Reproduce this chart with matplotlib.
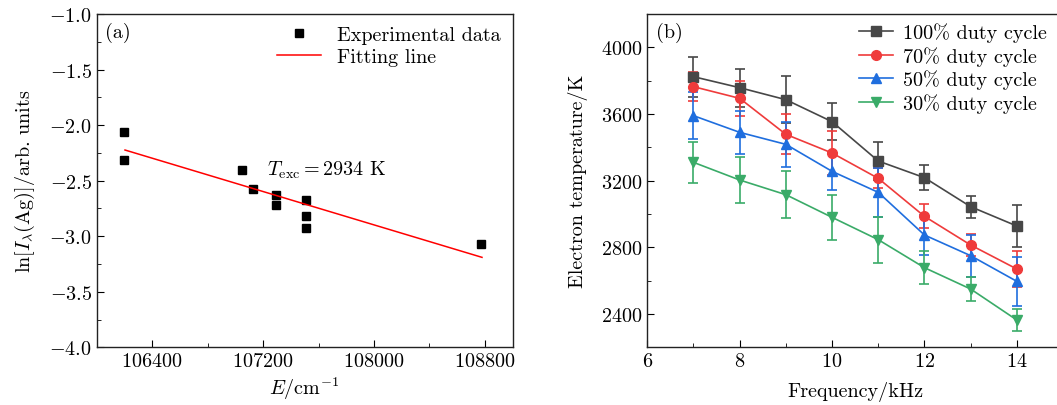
import matplotlib
matplotlib.use('Agg')
import matplotlib.pyplot as plt
from matplotlib.lines import Line2D
import numpy as np

plt.rcParams['font.family'] = ['cmr10', 'DejaVu Serif']
plt.rcParams['mathtext.fontset'] = 'cm'
plt.rcParams['axes.formatter.use_mathtext'] = True
plt.rcParams['font.size'] = 14.5

# (a) Boltzmann plot
energy = [106197, 106197, 107048, 107125, 107293, 107293, 107507, 107507, 107507, 108772]
ln_int = [-2.065, -2.311, -2.401, -2.572, -2.632, -2.722, -2.671, -2.821, -2.923, -3.073]
fit_x = [106204, 108779]
fit_y = [-2.224, -3.190]

# (b) electron temperature vs frequency
freq = [7, 8, 9, 10, 11, 12, 13, 14]
t100 = [3824, 3758, 3686, 3554, 3318, 3218, 3044, 2928]
e100 = [120, 115, 140, 110, 112, 75, 65, 125]
t70 = [3764, 3694, 3478, 3366, 3214, 2986, 2814, 2670]
e70 = [88, 106, 120, 130, 60, 72, 64, 106]
t50 = [3590, 3490, 3418, 3256, 3130, 2874, 2750, 2596]
e50 = [142, 127, 135, 113, 148, 120, 126, 147]
t30 = [3310, 3204, 3116, 2980, 2846, 2678, 2550, 2364]
e30 = [123, 140, 140, 137, 138, 99, 73, 65]

fig = plt.figure(figsize=(10.57, 4.06), dpi=100)
ax1 = fig.add_axes([0.0915, 0.142, 0.3935, 0.821])
ax2 = fig.add_axes([0.6124, 0.142, 0.3933, 0.821])

for ax in (ax1, ax2):
    ax.tick_params(direction='in', which='both', top=False, right=False)
    ax.tick_params(which='major', length=5)
    ax.tick_params(which='minor', length=3)
    for s in ax.spines.values():
        s.set_linewidth(1.0)
        s.set_color('#222222')

# panel a
ax1.plot(energy, ln_int, 's', color='black', markersize=6, label='Experimental data')
ax1.plot(fit_x, fit_y, '-', color='#ff0000', lw=1.1, label='Fitting line')
ax1.set_xlim(106000, 109000)
ax1.set_ylim(-4.0, -1.0)
ax1.set_xticks([106400, 107200, 108000, 108800])
ax1.set_xticks(np.arange(106000, 109001, 400), minor=True)
ax1.set_yticks(np.arange(-4.0, -0.99, 0.5))
ax1.set_yticks(np.arange(-4.0, -0.99, 0.25), minor=True)
ax1.set_xlabel(r'$E$/cm$^{-1}$', labelpad=3)
ax1.set_ylabel(r'ln[$I_\lambda$(Ag)]/arb. units', labelpad=9)
ax1.text(107226, -2.395, r'$T_{\rm exc} = 2934$ K', va='center', ha='left')
ax1.text(0.02, 0.946, '(a)', transform=ax1.transAxes, va='center', ha='left')
ax1.legend(loc='upper right', frameon=False, handlelength=2.2, borderaxespad=0.2,
           labelspacing=0.2, handletextpad=0.8)

# panel b
series = [(t100, e100, '#474747', 's', '100% duty cycle'),
          (t70, e70, '#ef3b3b', 'o', '70% duty cycle'),
          (t50, e50, '#1f6ede', '^', '50% duty cycle'),
          (t30, e30, '#3aab68', 'v', '30% duty cycle')]
handles = []
for vals, errs, c, m, lab in series:
    ax2.errorbar(freq, vals, yerr=errs, color=c, marker=m, markersize=7, lw=1.2,
                 elinewidth=1.2, capsize=3.5, capthick=1.2)
    handles.append(Line2D([], [], color=c, marker=m, markersize=7, lw=1.2, label=lab))
ax2.set_xlim(6, 15)
ax2.set_ylim(2200, 4200)
ax2.set_xticks([6, 8, 10, 12, 14])
ax2.set_xticks(np.arange(6, 15.1, 1), minor=True)
ax2.set_yticks([2400, 2800, 3200, 3600, 4000])
ax2.set_yticks(np.arange(2200, 4201, 200), minor=True)
ax2.set_xlabel('Frequency/kHz', labelpad=8)
ax2.set_ylabel('Electron temperature/K', labelpad=9)
ax2.text(0.021, 0.946, '(b)', transform=ax2.transAxes, va='center', ha='left')
ax2.legend(handles=handles, loc='upper left', bbox_to_anchor=(0.49, 1.0), frameon=False,
           handlelength=1.7, borderaxespad=0.0, labelspacing=0.2, handletextpad=0.5)

fig.savefig('out.png', dpi=100)
